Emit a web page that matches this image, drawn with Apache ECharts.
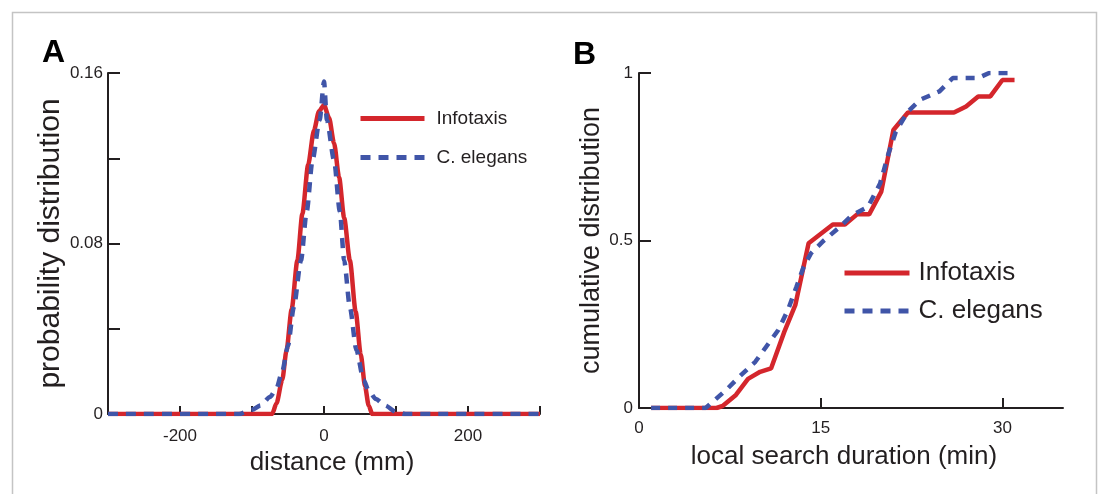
<!DOCTYPE html>
<html>
<head>
<meta charset="utf-8">
<script src="https://cdn.jsdelivr.net/npm/echarts@6/dist/echarts.min.js"></script>
<style>html,body{margin:0;padding:0;background:#fff}#c{width:1099px;height:494px}</style>
</head>
<body>
<div id="c"></div>
<script>
// ---- Panel A data: probability distribution vs distance (mm)
var distRedA  = [-300, -72, -66, -58, -52, -45, -37, -30, -22, -14, -7, 0, 7, 14, 21, 28, 36, 44, 51, 57, 62, 67, 300];
var probRedA  = [0, 0, 0.005, 0.016, 0.03, 0.049, 0.072, 0.094, 0.117, 0.133, 0.142, 0.145, 0.139, 0.127, 0.111, 0.092, 0.072, 0.048, 0.028, 0.013, 0.004, 0, 0];
var distBlueA = [-300, -118, -100, -88, -75, -66, -58, -50, -42, -32, -24, -16, -6, 0, 4, 14, 22, 28, 36, 45, 55, 62, 72, 85, 100, 113, 300];
var probBlueA = [0, 0, 0.002, 0.004, 0.008, 0.012, 0.02, 0.032, 0.05, 0.072, 0.095, 0.119, 0.138, 0.156, 0.138, 0.119, 0.095, 0.072, 0.05, 0.03, 0.016, 0.011, 0.007, 0.004, 0.001, 0, 0];
var xLabelsA = [-200, 0, 200];
var yLabelsA = [0, 0.08, 0.16];

// ---- Panel B data: cumulative distribution vs local search duration (min)
var durRedB  = [1.0, 6.4, 6.9, 8.0, 9.0, 10.0, 10.9, 12.0, 12.9, 14.0, 16.0, 17.0, 18.0, 19.0, 20.0, 21.0, 22.2, 26.0, 27.0, 28.0, 29.0, 30.0, 31.0];
var cumRedB  = [0, 0, 0.006, 0.039, 0.087, 0.108, 0.118, 0.228, 0.307, 0.492, 0.548, 0.548, 0.578, 0.578, 0.646, 0.83, 0.882, 0.882, 0.90, 0.93, 0.93, 0.979, 0.979];
var durBlueB = [1.0, 5.5, 7.2, 8.3, 9.6, 10.5, 11.5, 12.3, 13.0, 13.6, 14.2, 15.2, 16.6, 17.6, 18.9, 19.9, 20.6, 21.2, 22.2, 23.2, 24.8, 25.9, 28.0, 28.9, 31.0];
var cumBlueB = [0, 0, 0.054, 0.094, 0.138, 0.183, 0.233, 0.293, 0.362, 0.422, 0.462, 0.498, 0.541, 0.576, 0.60, 0.67, 0.76, 0.825, 0.885, 0.92, 0.945, 0.985, 0.985, 1.0, 1.0];
var xLabelsB = [0, 15, 30];
var yLabelsB = [0, 0.5, 1];

var seriesNames = ['Infotaxis', 'C. elegans'];

function pairs(xs, ys) { return xs.map(function (x, i) { return [x, ys[i]]; }); }
function pick(list) {
  return function (v) {
    for (var i = 0; i < list.length; i++) if (Math.abs(list[i] - v) < 1e-9) return String(list[i]);
    return '';
  };
}

var RED = '#d4262c', BLUE = '#4055a8', AX = '#231f20';
var FONT = 'Liberation Sans, Arial, Helvetica, sans-serif';

function axisCommon(tickLen) {
  return {
    axisLine: { show: true, onZero: false, lineStyle: { color: AX, width: 2 } },
    axisTick: { show: true, inside: true, length: tickLen, lineStyle: { color: AX, width: 2 } },
    splitLine: { show: false },
    axisLabel: { color: AX, fontSize: 17, fontFamily: FONT },
    nameTextStyle: { color: AX, fontFamily: FONT }
  };
}
function merge(a, b) { for (var k in b) a[k] = b[k]; return a; }

var chart = echarts.init(document.getElementById('c'), null, { renderer: 'canvas' });
var option = {
  animation: false,
  backgroundColor: '#fff',
  textStyle: { fontFamily: FONT },
  grid: [
    { left: 108, top: 73, width: 432, height: 341 },
    { left: 639, top: 73, width: 424, height: 335 }
  ],
  xAxis: [
    merge(axisCommon(8), {
      type: 'value', gridIndex: 0, min: -300, max: 300, interval: 100,
      name: 'distance (mm)', nameLocation: 'middle', nameGap: 29,
      nameTextStyle: { color: AX, fontFamily: FONT, fontSize: 26, padding: [0, 0, 0, 16] },
      axisLabel: { color: AX, fontSize: 17, fontFamily: FONT, margin: 14, formatter: pick(xLabelsA) }
    }),
    merge(axisCommon(10), {
      type: 'value', gridIndex: 1, min: 0, max: 35, interval: 15,
      name: 'local search duration (min)', nameLocation: 'middle', nameGap: 36,
      nameTextStyle: { color: AX, fontFamily: FONT, fontSize: 26, padding: [0, 14, 0, 0] },
      axisTick: { show: true, inside: true, length: 10, customValues: xLabelsB, lineStyle: { color: AX, width: 2 } },
      axisLabel: { color: AX, fontSize: 17, fontFamily: FONT, margin: 12, customValues: xLabelsB, formatter: pick(xLabelsB) }
    })
  ],
  yAxis: [
    merge(axisCommon(12), {
      type: 'value', gridIndex: 0, min: 0, max: 0.16, interval: 0.04,
      name: 'probability distribution', nameLocation: 'middle', nameGap: 34,
      nameTextStyle: { color: AX, fontFamily: FONT, fontSize: 30 },
      axisLabel: { color: AX, fontSize: 17, fontFamily: FONT, margin: 5, formatter: pick(yLabelsA) }
    }),
    merge(axisCommon(12), {
      type: 'value', gridIndex: 1, min: 0, max: 1, interval: 0.5,
      name: 'cumulative distribution', nameLocation: 'middle', nameGap: 33,
      nameTextStyle: { color: AX, fontFamily: FONT, fontSize: 27 },
      axisLabel: { color: AX, fontSize: 17, fontFamily: FONT, margin: 6, formatter: pick(yLabelsB) }
    })
  ],
  legend: [
    {
      data: seriesNames, orient: 'vertical', left: 358, top: 109, padding: 0,
      itemWidth: 64, itemHeight: 14, itemGap: 20, selectedMode: false,
      itemStyle: { opacity: 0 }, lineStyle: { width: 5, inactiveWidth: 5 },
      textStyle: { color: AX, fontSize: 19, fontFamily: FONT, padding: [0, 0, 0, 7] }
    },
    {
      data: seriesNames, orient: 'vertical', left: 842, top: 260, padding: 0,
      itemWidth: 65, itemHeight: 14, itemGap: 12, selectedMode: false,
      itemStyle: { opacity: 0 }, lineStyle: { width: 5, inactiveWidth: 5 },
      textStyle: { color: AX, fontSize: 26, fontFamily: FONT, padding: [0, 0, 0, 4] }
    }
  ],
  graphic: [
    { type: 'rect', left: 10, top: 10, shape: { width: 1084, height: 500 }, style: { fill: 'none', stroke: '#c4c4c4', lineWidth: 1.5 }, silent: true },
    { type: 'text', left: 42, top: 37, style: { text: 'A', fill: '#000', font: 'bold 32px ' + FONT } },
    { type: 'text', left: 573, top: 39, style: { text: 'B', fill: '#000', font: 'bold 32px ' + FONT } }
  ],
  series: [
    { name: seriesNames[0], type: 'line', xAxisIndex: 0, yAxisIndex: 0, data: pairs(distRedA, probRedA), showSymbol: false, symbol: 'none', smooth: 0.25, smoothMonotone: 'x', lineStyle: { color: RED, width: 4.5 }, itemStyle: { color: RED } },
    { name: seriesNames[1], type: 'line', xAxisIndex: 0, yAxisIndex: 0, data: pairs(distBlueA, probBlueA), showSymbol: false, symbol: 'none', smooth: 0.25, smoothMonotone: 'x', lineStyle: { color: BLUE, width: 4.5, type: [10, 8] }, itemStyle: { color: BLUE } },
    { name: seriesNames[0], type: 'line', xAxisIndex: 1, yAxisIndex: 1, data: pairs(durRedB, cumRedB), showSymbol: false, symbol: 'none', lineStyle: { color: RED, width: 4.5 }, itemStyle: { color: RED } },
    { name: seriesNames[1], type: 'line', xAxisIndex: 1, yAxisIndex: 1, data: pairs(durBlueB, cumBlueB), showSymbol: false, symbol: 'none', lineStyle: { color: BLUE, width: 4.5, type: [9, 8] }, itemStyle: { color: BLUE } }
  ]
};
chart.setOption(option);
</script>
</body>
</html>
